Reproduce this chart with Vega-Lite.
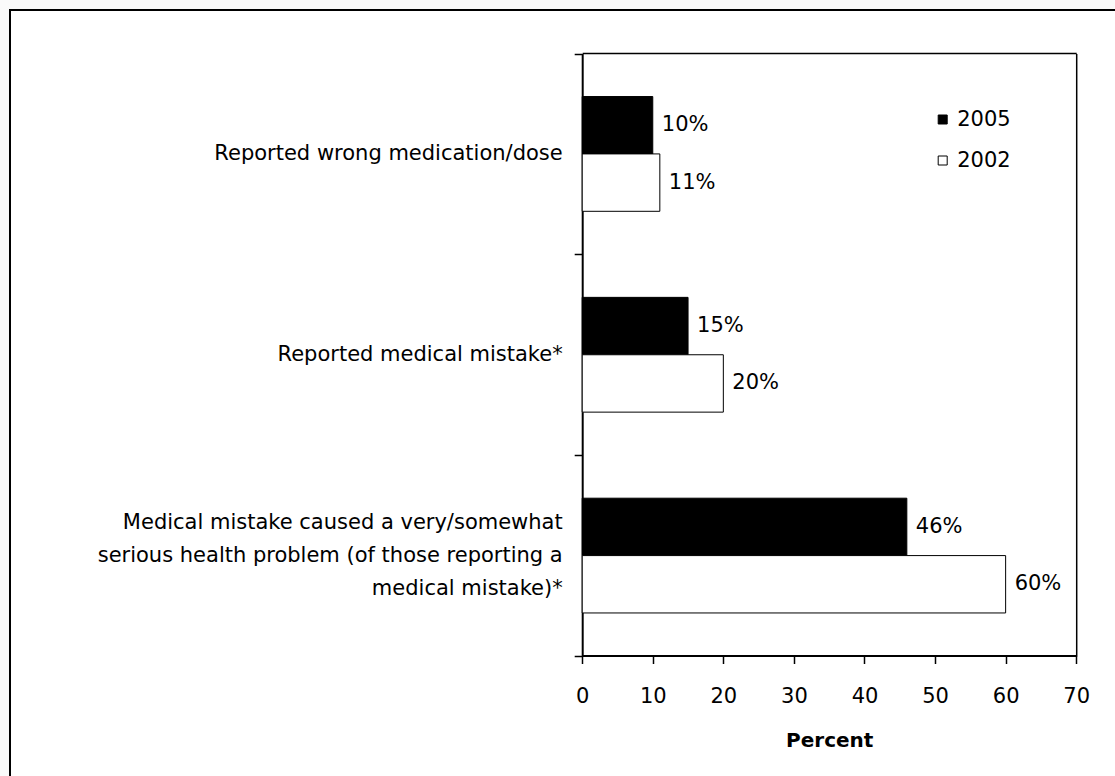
{
  "$schema": "https://vega.github.io/schema/vega-lite/v6.json",
  "width": 1105,
  "height": 766,
  "autosize": {"type": "none"},
  "padding": {"left": 10, "top": 10, "right": 0, "bottom": 0},
  "background": "#fafafa",
  "config": {
    "font": "DejaVu Sans",
    "view": {"fill": "white", "stroke": "black", "strokeWidth": 2, "strokeDash": [1105, 1871, 766, 10]},
    "axis": {"grid": false, "domainColor": "black", "tickColor": "black", "labelColor": "black", "titleColor": "black"}
  },
  "data": {
    "values": [
      {"item": "Reported wrong medication/dose", "year": "2005", "pct": 10},
      {"item": "Reported wrong medication/dose", "year": "2002", "pct": 11},
      {"item": "Reported medical mistake*", "year": "2005", "pct": 15},
      {"item": "Reported medical mistake*", "year": "2002", "pct": 20},
      {"item": "Medical mistake caused a very/somewhat|serious health problem (of those reporting a|medical mistake)*", "year": "2005", "pct": 46},
      {"item": "Medical mistake caused a very/somewhat|serious health problem (of those reporting a|medical mistake)*", "year": "2002", "pct": 60}
    ]
  },
  "layer": [
    {
      "mark": {"type": "bar", "stroke": "black", "strokeWidth": 1},
      "encoding": {
        "y": {
          "field": "item",
          "type": "nominal",
          "sort": null,
          "scale": {"type": "band", "range": [43.5, 646], "paddingInner": 0, "paddingOuter": 0},
          "axis": {
            "orient": "left",
            "offset": -572.2,
            "title": null,
            "tickBand": "extent",
            "tickSize": 8,
            "tickWidth": 1.5,
            "domainWidth": 2,
            "labelFontSize": 21,
            "labelPadding": 12,
            "labelLimit": 700,
            "labelLineHeight": 33,
            "labelOffset": {"condition": {"test": "indexof(datum.label, '|') >= 0", "value": -33}, "value": 0},
            "labelExpr": "split(datum.label, '|')"
          }
        },
        "yOffset": {
          "field": "year",
          "type": "nominal",
          "sort": ["2005", "2002"],
          "scale": {"paddingInner": 0, "paddingOuter": 0.75}
        },
        "x": {
          "field": "pct",
          "type": "quantitative",
          "scale": {"domain": [0, 70], "range": [572.2, 1066.2], "nice": false},
          "axis": {
            "orient": "bottom",
            "offset": -120.5,
            "values": [0, 10, 20, 30, 40, 50, 60, 70],
            "tickSize": 8,
            "tickWidth": 1.5,
            "domainWidth": 2,
            "labelFontSize": 21,
            "labelPadding": 21.5,
            "labelFlush": false,
            "title": "Percent",
            "titleFontSize": 20,
            "titleFontWeight": "bold",
            "titlePadding": 24
          }
        },
        "color": {
          "field": "year",
          "type": "nominal",
          "scale": {"domain": ["2005", "2002"], "range": ["black", "white"]},
          "legend": {
            "orient": "none",
            "legendX": 922.2,
            "legendY": 99,
            "title": null,
            "padding": 0,
            "symbolType": "square",
            "symbolSize": 81,
            "symbolStrokeColor": "black",
            "symbolStrokeWidth": 1,
            "labelFontSize": 21,
            "labelColor": "black",
            "labelOffset": 4,
            "rowPadding": 19
          }
        }
      }
    },
    {
      "mark": {"type": "text", "align": "left", "baseline": "middle", "dx": 9, "fontSize": 21, "color": "black", "text": {"expr": "datum.pct + '%'"}},
      "encoding": {
        "y": {
          "field": "item",
          "type": "nominal",
          "sort": null,
          "scale": {"type": "band", "range": [43.5, 646], "paddingInner": 0, "paddingOuter": 0},
          "axis": {"orient": "right", "offset": -38.8, "domainWidth": 1.5, "ticks": false, "labels": false, "title": null}
        },
        "yOffset": {
          "field": "year",
          "type": "nominal",
          "sort": ["2005", "2002"],
          "scale": {"paddingInner": 0, "paddingOuter": 0.75}
        },
        "x": {
          "field": "pct",
          "type": "quantitative",
          "scale": {"domain": [0, 70], "range": [572.2, 1066.2], "nice": false},
          "axis": {"orient": "top", "offset": -43, "domainWidth": 1.5, "ticks": false, "labels": false, "title": null}
        }
      }
    }
  ],
  "resolve": {"axis": {"x": "independent", "y": "independent"}}
}
